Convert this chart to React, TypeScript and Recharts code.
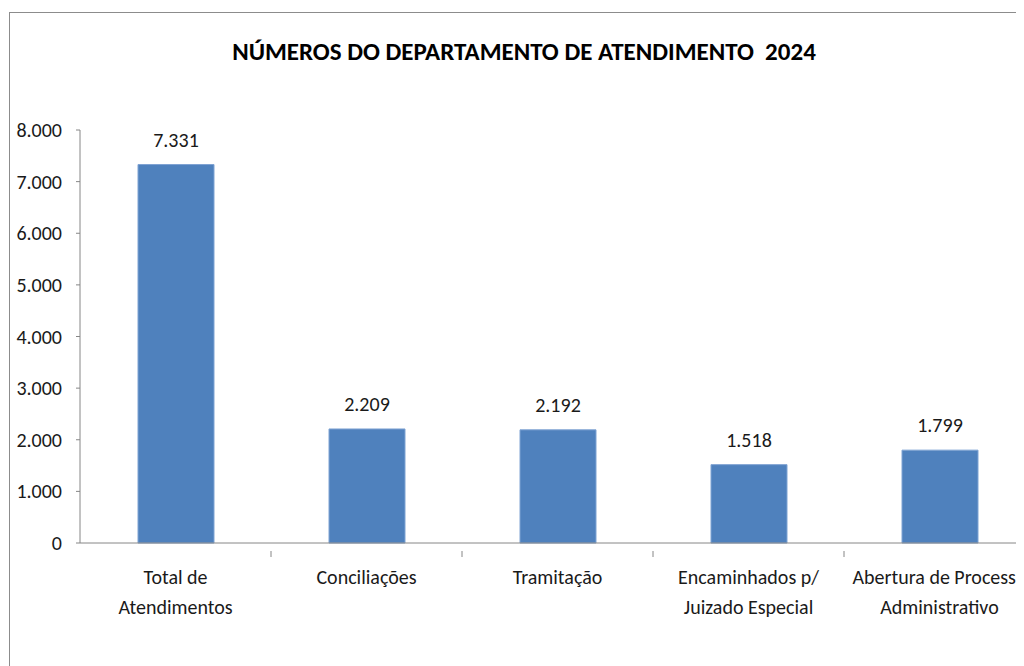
import React from 'react';
import { BarChart, Bar, XAxis, YAxis, LabelList } from 'recharts';

const title = 'NÚMEROS DO DEPARTAMENTO DE ATENDIMENTO  2024';
const categories = [
  'Total de\nAtendimentos',
  'Conciliações',
  'Tramitação',
  'Encaminhados p/\nJuizado Especial',
  'Abertura de Processo\nAdministrativo',
];
const values = [7331, 2209, 2192, 1518, 1799];
const yTicks = [0, 1000, 2000, 3000, 4000, 5000, 6000, 7000, 8000];

const data = categories.map((c, i) => ({ name: c, value: values[i] }));

const FONT = 'Carlito, Calibri, Lato, sans-serif';
const AXIS = '#868686';
const CHART_W = 1040;
const CHART_H = 658;
const X_H = 115;
const MARGIN = { top: 122, right: 13, bottom: 8, left: 0 };
const Y_W = 72;
const BAND = (CHART_W - MARGIN.left - MARGIN.right - Y_W) / categories.length;
const FS = 20;

const fmt = (v: number) => String(v).replace(/\B(?=(\d{3})+(?!\d))/g, '.');

const XTick = (props: any) => {
  const { x, y, payload, index } = props;
  const lines = String(payload.value).split('\n');
  return (
    <g>
      {index > 0 && (
        <line x1={x - BAND / 2} x2={x - BAND / 2} y1={y} y2={y + 6} stroke={AXIS} strokeWidth={1} />
      )}
      <text x={x} y={y} textAnchor="middle" fontFamily={FONT} fontSize={FS} fill="#1a1a1a">
        {lines.map((l, i) => (
          <tspan key={i} x={x} dy={i === 0 ? 33 : 30}>
            {l}
          </tspan>
        ))}
      </text>
    </g>
  );
};

export default function App() {
  return (
    <div style={{ position: 'relative', width: 1016, height: 658, overflow: 'hidden', background: '#fff' }}>
      <div
        style={{
          position: 'absolute',
          left: 1,
          top: 4,
          width: 1100,
          height: 800,
          border: '1px solid #8c8c8c',
          boxSizing: 'border-box',
        }}
      />
      <div
        style={{
          position: 'absolute',
          left: 1,
          width: 1030,
          top: 28,
          lineHeight: '32px',
          textAlign: 'center',
          fontFamily: FONT,
          fontWeight: 700,
          fontSize: 25,
          color: '#000',
          whiteSpace: 'pre',
        }}
      >
        {title}
      </div>
      <div style={{ position: 'absolute', left: 0, top: 0 }}>
        <BarChart width={CHART_W} height={CHART_H} data={data} margin={MARGIN}>
          <YAxis
            width={Y_W}
            domain={[0, 8000]}
            ticks={yTicks}
            interval={0}
            tickFormatter={fmt}
            axisLine={{ stroke: AXIS }}
            tickLine={{ stroke: AXIS }}
            tickSize={4}
            tickMargin={14}
            tick={{ fontFamily: FONT, fontSize: FS, fill: '#1a1a1a' }}
          />
          <XAxis
            dataKey="name"
            interval={0}
            axisLine={{ stroke: AXIS }}
            tickLine={false}
            tick={<XTick />}
            height={X_H}
          />
          <Bar dataKey="value" fill="#4F81BD" stroke="#7FA3D3" strokeWidth={1} barSize={76} isAnimationActive={false}>
            <LabelList
              dataKey="value"
              position="top"
              offset={18}
              formatter={(v: any) => fmt(Number(v))}
              style={{ fontFamily: FONT, fontSize: FS, fill: '#1a1a1a' }}
            />
          </Bar>
        </BarChart>
      </div>
    </div>
  );
}
